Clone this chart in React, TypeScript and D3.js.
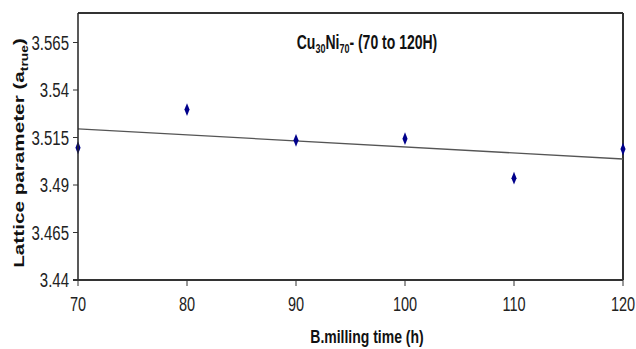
import React from 'react';
import * as d3 from 'd3';

// milling time (h) and lattice parameter a_true
const millingTimes = [70, 80, 90, 100, 110, 120];
const latticeValues = [3.5096, 3.5297, 3.5135, 3.5144, 3.4936, 3.5089];
const xTicks = [70, 80, 90, 100, 110, 120];
const yTicks = [3.44, 3.465, 3.49, 3.515, 3.54, 3.565];

const W = 636;
const H = 349;
const margin = { top: 14, right: 13, bottom: 69, left: 78 };
const STRETCH = 1.38; // the source image is stretched vertically
const FONT = '"Liberation Sans", Arial, sans-serif';

export default function App() {
  const x = d3.scaleLinear().domain([70, 120]).range([margin.left, W - margin.right]);
  const y = d3.scaleLinear().domain([3.44, 3.58]).range([H - margin.bottom, margin.top]);

  // least squares trend line
  const mx = d3.mean(millingTimes) as number;
  const my = d3.mean(latticeValues) as number;
  const sxy = d3.sum(millingTimes, (t, i) => (t - mx) * (latticeValues[i] - my));
  const sxx = d3.sum(millingTimes, t => (t - mx) * (t - mx));
  const slope = sxy / sxx;
  const trend = (t: number) => my + slope * (t - mx);
  const line = d3.line<number>().x(t => x(t)).y(t => y(trend(t)));

  const diamond = d3.symbol().type(d3.symbolDiamond).size(28)() as string;
  const x0 = margin.left;
  const x1 = W - margin.right;
  const yb = H - margin.bottom;
  const yt = margin.top - 1;

  return (
    <>
      <style>{`html,body{margin:0;padding:0;overflow:hidden;}`}</style>
      <svg
        width={W}
        height={H}
        style={{ position: 'fixed', left: 0, top: 0, display: 'block', background: '#fff', fontFamily: FONT }}
      >
        {/* frame */}
        <line x1={x0} x2={x1} y1={yt} y2={yt} stroke="#333" strokeWidth={2} />
        <line x1={x1} x2={x1} y1={yt} y2={yb} stroke="#333" strokeWidth={2} />

        {/* trend line */}
        <path d={line([70, 120]) as string} fill="none" stroke="#555" strokeWidth={1.3} />

        {/* points */}
        {millingTimes.map((t, i) => (
          <path
            key={t}
            d={diamond}
            transform={`translate(${x(t)},${y(latticeValues[i])}) scale(0.9,1.3)`}
            fill="#00008b"
          />
        ))}

        {/* axes */}
        <line x1={x0} x2={x0} y1={yt} y2={yb} stroke="#222" strokeWidth={1.5} />
        <line x1={x0 - 5} x2={x1} y1={yb} y2={yb} stroke="#333" strokeWidth={2} />

        {yTicks.map(v => (
          <g key={v}>
            <line x1={x0 - 5} x2={x0} y1={y(v)} y2={y(v)} stroke="#333" strokeWidth={1} />
            <text
              transform={`translate(${x0 - 9},${y(v)}) scale(1,${STRETCH})`}
              textAnchor="end"
              dy="0.35em"
              fontSize={15}
              fill="#222"
            >
              {v}
            </text>
          </g>
        ))}

        {xTicks.map(v => (
          <g key={v}>
            <line x1={x(v)} x2={x(v)} y1={yb} y2={yb + 6} stroke="#333" strokeWidth={1} />
            <text
              transform={`translate(${x(v)},${yb + 24}) scale(1,${STRETCH})`}
              textAnchor="middle"
              dy="0.35em"
              fontSize={14.5}
              fill="#222"
            >
              {v}
            </text>
          </g>
        ))}

        {/* axis titles */}
        <text
          transform={`translate(367,${yb + 57}) scale(1,1.3)`}
          textAnchor="middle"
          dy="0.35em"
          fontSize={14}
          fontWeight="bold"
          fill="#111"
        >
          B.milling time (h)
        </text>
        <text
          transform={`translate(19,153) rotate(-90) scale(${STRETCH},1)`}
          textAnchor="middle"
          dy="0.35em"
          fontSize={15}
          fontWeight="bold"
          fill="#111"
        >
          Lattice parameter (a
          <tspan fontSize={10} dy="4">true</tspan>
          <tspan dy="-4">)</tspan>
        </text>

        {/* chart title */}
        <text
          transform={`translate(367,42) scale(1,${STRETCH})`}
          textAnchor="middle"
          dy="0.35em"
          fontSize={14}
          fontWeight="bold"
          fill="#111"
        >
          Cu
          <tspan fontSize={9} dy="3">30</tspan>
          <tspan dy="-3">Ni</tspan>
          <tspan fontSize={9} dy="3">70</tspan>
          <tspan dy="-3">- (70 to 120H)</tspan>
        </text>
      </svg>
    </>
  );
}
